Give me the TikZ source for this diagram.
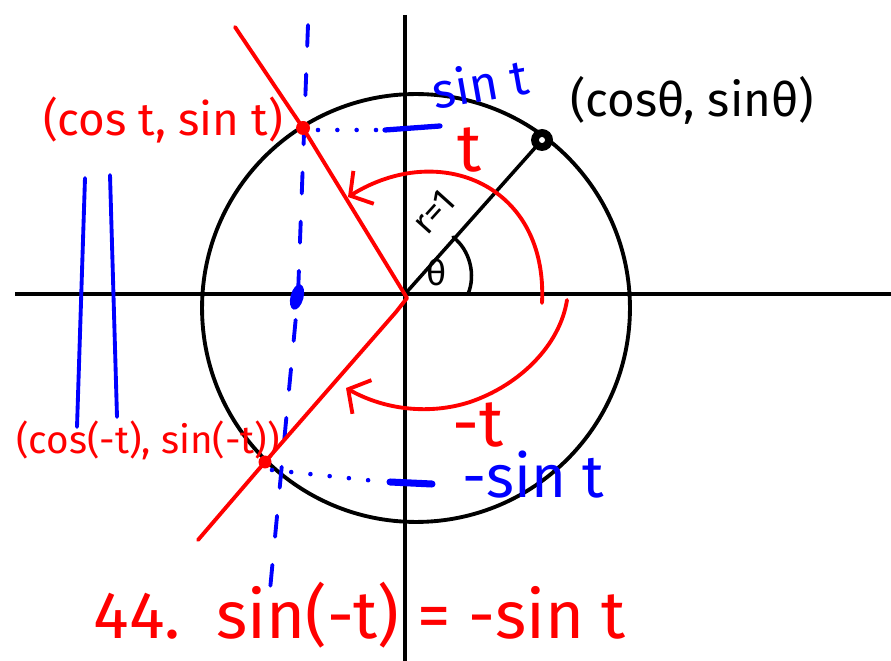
\documentclass[tikz,border=0pt]{standalone}
\usepackage{fontspec}
\setmainfont{Fira Sans}
\usetikzlibrary{arrows.meta}
\definecolor{penred}{rgb}{1.0, 0.0, 0.0}
\definecolor{penblue}{rgb}{0.0, 0.0, 1.0}

\begin{document}
\begin{tikzpicture}[
    x=0.02cm, y=-0.02cm,
    axis/.style={draw=black, line width=2.2pt},
    radial/.style={draw=black, line width=2pt, line cap=round},
    redline/.style={draw=penred, line width=2.2pt, line cap=round, line join=round},
    turn/.style={redline, -{Straight Barb[length=9pt, width=22pt, line width=2.2pt]}},
    guide/.style={draw=penblue, line width=2.2pt, line cap=round, dash pattern=on 12pt off 16pt},
    dotline/.style={draw=penblue, line width=2.6pt, line cap=round, dash pattern=on 0pt off 11pt},
    redlabel/.style={text=penred, inner sep=0pt, font=\fontsize{26}{30}\selectfont},
    bluelabel/.style={text=penblue, inner sep=0pt, font=\fontsize{28}{32}\selectfont},
    blacklabel/.style={text=black, inner sep=0pt, font=\fontsize{27}{30}\selectfont},
]
\useasboundingbox (0,0) rectangle (891,661);

% Points
\coordinate (O) at (405,294);
\coordinate (C) at (416,308);
\coordinate (P) at (542,140);
\coordinate (Q) at (303,128);
\coordinate (Qm) at (265,462);

% Axes and circle
\draw[axis] (15,294) -- (891,294);
\draw[axis] (405,15) -- (405,661);
\draw[axis] (C) circle[radius=4.28cm];

% Radius and angle
\draw[radial] (O) -- (P);
\draw[radial] (453,237) .. controls (470,250) and (476,275) .. (468,294);
\fill (P) circle[radius=0.22cm];
\fill[white] (P) circle[radius=0.06cm];

% Blue guides
\draw[guide] (308,25) -- (298,295) -- (270,590);
\fill[penblue, rotate around={-15:(297,297)}] (297,297) ellipse[x radius=0.13cm, y radius=0.26cm];
\draw[dotline] (318,130) -- (385,130);
\draw[penblue, line width=3pt, line cap=round] (385,130) -- (440,126);
\draw[dotline] (272,470) -- (385,482);
\draw[penblue, line width=4pt, line cap=round] (390,482) -- (432,484);
\draw[penblue, line width=2.2pt, line cap=round] (85,178) -- (77,427);
\draw[penblue, line width=2.2pt, line cap=round] (110,175) -- (117,417);

% Red rays
\draw[redline] (235,27) -- (Q) -- (407,298) -- (396,312) -- (Qm) -- (198,540);
\fill[penred] (Q) circle[radius=0.14cm];
\fill[penred] (Qm) circle[radius=0.13cm];

% Turning arrows
\draw[turn] (542,303) .. controls (548,185) and (440,140) .. (348,197);
\draw[turn] (567,300) .. controls (560,345) and (520,385) .. (470,402)
    .. controls (430,415) and (385,410) .. (346,388);

% Labels
\node[blacklabel] (ptheta) at (692,100) {(cosθ, sinθ)};
\node[blacklabel, rotate=48, font=\fontsize{20}{22}\selectfont] (rlabel) at (434,212) {r=1};
\node[blacklabel, font=\fontsize{20}{24}\selectfont] (thetalabel) at (437,273) {θ};
\node[redlabel] (pt) at (163,120) {(cos t, sin t)};
\node[redlabel, font=\fontsize{22}{26}\selectfont] (pmt) at (148,440) {(cos(-t), sin(-t))};
\node[bluelabel, rotate=10] (sint) at (480,83) {sin t};
\node[bluelabel, font=\fontsize{34}{38}\selectfont] (msint) at (533,475) {-sin t};
\node[redlabel, font=\fontsize{38}{42}\selectfont] (tlabel) at (470,150) {t};
\node[redlabel, font=\fontsize{38}{42}\selectfont] (mtlabel) at (478,425) {-t};
\node[redlabel, font=\fontsize{38}{42}\selectfont] (result) at (360,615) {44.\ \ sin(-t) = -sin t};

\end{tikzpicture}
\end{document}
